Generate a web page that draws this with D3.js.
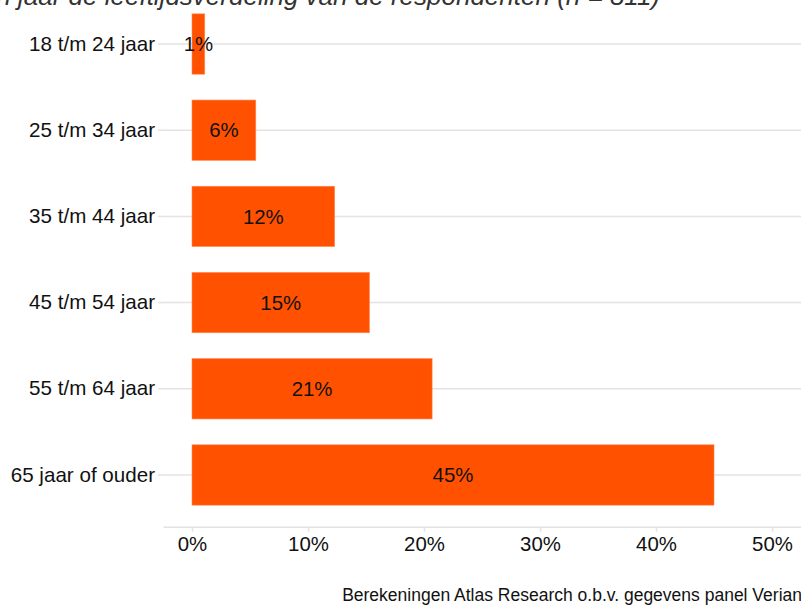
<!DOCTYPE html>
<html><head><meta charset="utf-8">
<script src="https://cdn.jsdelivr.net/npm/d3@7"></script>
<style>
html,body{margin:0;padding:0;background:#fff;overflow:hidden}
svg{display:block;font-family:"Liberation Sans",Arial,sans-serif}
</style></head>
<body>
<svg id="c" width="801" height="605"></svg>
<script>
const categories = ["18 t/m 24 jaar","25 t/m 34 jaar","35 t/m 44 jaar","45 t/m 54 jaar","55 t/m 64 jaar","65 jaar of ouder"];
const values = [0.011, 0.055, 0.123, 0.153, 0.207, 0.450];
const valueLabels = ["1%","6%","12%","15%","21%","45%"];
const xTicks = [0, 0.1, 0.2, 0.3, 0.4, 0.5];
const titleText = "Leeftijd in jaar de leeftijdsverdeling van de respondenten (n = 811)";
const captionText = "Berekeningen Atlas Research o.b.v. gegevens panel Verian";

(function(){
const svg = d3.select("#c");
const pLeft = 163, pRight = 801, pTop = -7.7, pBottom = 526.7;
const x = d3.scaleLinear().domain([-0.025, 0.525]).range([pLeft, pRight]);
const y = d3.scaleBand().domain(categories).range([pTop, pBottom]).paddingInner(0.3).paddingOuter(0.25);
const grid = "#e3e3e3";
const fam = "Liberation Sans, Arial, sans-serif";

svg.append("text").attr("x", 660).attr("y", 5).attr("text-anchor","end")
  .attr("font-size", 26).attr("font-style","italic").attr("fill","#333").text(titleText);

svg.append("g").selectAll("line").data(categories).join("line")
  .attr("x1", pLeft).attr("x2", pRight)
  .attr("y1", d => y(d) + y.bandwidth()/2).attr("y2", d => y(d) + y.bandwidth()/2)
  .attr("stroke", grid).attr("stroke-width", 1.5);

const yAxis = svg.append("g").attr("transform", `translate(${pLeft},0)`)
  .call(d3.axisLeft(y).tickSize(5).tickPadding(3));
yAxis.select(".domain").remove();
yAxis.selectAll("line").attr("stroke", grid).attr("stroke-width", 1.5);
yAxis.selectAll("text").attr("font-size", 20.6).attr("fill", "#111").attr("font-family", fam);

const xAxis = svg.append("g").attr("transform", `translate(0,${pBottom})`)
  .call(d3.axisBottom(x).tickValues(xTicks).tickFormat(d3.format(".0%")).tickSize(5).tickPadding(5).tickSizeOuter(0));
xAxis.select(".domain").attr("stroke", grid).attr("stroke-width", 1.5);
xAxis.selectAll("line").attr("stroke", grid).attr("stroke-width", 1.5);
xAxis.selectAll("text").attr("font-size", 20.4).attr("fill", "#111").attr("font-family", fam);

svg.append("g").selectAll("rect").data(values).join("rect")
  .attr("x", x(0)).attr("y", (d,i) => y(categories[i]))
  .attr("width", d => x(d) - x(0)).attr("height", y.bandwidth())
  .attr("fill", "#ff5100").attr("stroke","#ff8a55").attr("stroke-width",0.6);

svg.append("g").selectAll("text").data(values).join("text")
  .attr("x", d => (x(0) + x(d))/2).attr("y", (d,i) => y(categories[i]) + y.bandwidth()/2)
  .attr("dy", "0.35em").attr("text-anchor","middle").attr("font-size", 20.4).attr("fill","#111")
  .text((d,i) => valueLabels[i]);

svg.append("text").attr("x", 802).attr("y", 601).attr("text-anchor","end")
  .attr("font-size", 17.5).attr("fill","#111").text(captionText);
})();
</script>
</body></html>
